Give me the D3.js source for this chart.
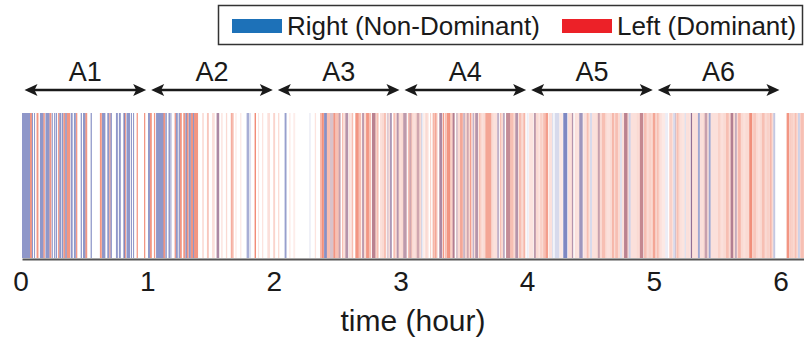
<!DOCTYPE html>
<html>
<head>
<meta charset="utf-8">
<script src="https://cdn.jsdelivr.net/npm/d3@7"></script>
<style>
  html, body { margin: 0; padding: 0; background: #fff; }
  text { font-family: "Liberation Sans", Arial, sans-serif; fill: #1a1a1a; }
</style>
</head>
<body>
<div id="chart"></div>
<script>
// recording timeline, hours
const hourTicks = [0, 1, 2, 3, 4, 5, 6];
const recordEndHour = 6.174;
const sessionLabels = ['A1', 'A2', 'A3', 'A4', 'A5', 'A6'];
const sessionStartHour = [0, 1, 2, 3, 4, 5];

const legendLabels = ['Right (Non-Dominant)', 'Left (Dominant)'];

// hand activity events: [start (min), duration (min), level]
const rightEvents = [
  [0.0, 3.8, 0.55], [4.7, 0.5, 0.55], [5.7, 0.3, 0.55], [8.5, 1.6, 0.55], [11.1, 1.9, 0.55],
  [14.1, 0.5, 0.55], [15.2, 0.6, 0.55], [16.1, 0.5, 0.55], [17.7, 0.9, 0.55], [18.9, 0.6, 0.55],
  [20.5, 0.7, 0.55], [23.1, 0.9, 0.55], [24.6, 0.9, 0.55], [27.8, 0.6, 0.55], [28.9, 1.1, 0.55],
  [32.5, 0.6, 0.55], [37.9, 1.6, 0.55], [40.4, 0.9, 0.55], [41.9, 0.7, 0.55], [44.5, 0.9, 0.55],
  [45.9, 0.9, 0.55], [48.0, 0.8, 0.55], [49.5, 1.7, 0.55], [51.6, 0.5, 0.55], [52.6, 0.5, 0.55],
  [59.7, 0.9, 0.55], [63.5, 3.5, 0.55], [67.9, 0.7, 0.55], [69.4, 0.7, 0.55], [70.3, 0.3, 0.55],
  [72.9, 0.9, 0.55], [74.2, 0.6, 0.55], [77.4, 0.7, 0.55], [79.0, 0.9, 0.55], [81.0, 0.5, 0.55],
  [92.2, 1.2, 0.35], [106.4, 1.3, 0.4], [108.0, 0.5, 0.1], [124.4, 0.9, 0.5], [136.1, 0.6, 0.08],
  [143.1, 1.3, 0.6], [145.9, 1.6, 0.12], [150.0, 0.9, 0.2], [153.2, 1.3, 0.3], [161.1, 0.9, 0.25],
  [165.8, 1.6, 0.25], [172.8, 0.9, 0.1], [174.3, 0.9, 0.35], [177.5, 0.9, 0.3], [180.6, 1.6, 0.25],
  [183.5, 0.9, 0.15], [187.0, 1.2, 0.15], [189.1, 0.6, 0.2], [197.7, 1.3, 0.35], [204.0, 0.9, 0.3],
  [205.6, 0.9, 0.12], [209.0, 0.9, 0.2], [210.7, 0.9, 0.15], [213.5, 0.6, 0.25], [214.7, 1.3, 0.3],
  [225.1, 0.9, 0.25], [228.0, 0.6, 0.4], [229.3, 1.9, 0.2], [233.7, 1.3, 0.3], [239.1, 0.9, 0.06],
  [242.5, 0.9, 0.25], [251.1, 0.6, 0.12], [252.3, 2.2, 0.15], [256.4, 1.9, 0.65], [260.5, 0.6, 0.3],
  [264.0, 1.6, 0.45], [269.1, 0.9, 0.15], [272.8, 0.9, 0.2], [283.3, 0.9, 0.12], [285.2, 1.6, 0.25],
  [287.4, 0.9, 0.2], [292.7, 1.6, 0.2], [304.7, 1.3, 0.06], [308.5, 1.3, 0.15], [313.9, 0.6, 0.12],
  [316.8, 0.6, 0.5], [320.2, 0.9, 0.45], [323.4, 1.2, 0.2], [325.3, 0.9, 0.45], [335.7, 1.2, 0.3],
  [337.9, 0.6, 0.35], [355.9, 0.9, 0.25], [367.6, 0.9, 0.2]
];

const leftEvents = [
  [3.8, 0.9, 0.55], [6.9, 0.9, 0.55], [10.1, 0.7, 0.55], [13.0, 0.9, 0.55], [17.1, 0.6, 0.55],
  [19.6, 0.9, 0.55], [21.2, 1.6, 0.55], [25.6, 0.6, 0.55], [30.0, 0.9, 0.55], [36.9, 0.9, 0.55],
  [41.4, 0.5, 0.55], [48.6, 0.6, 0.55], [54.3, 0.6, 0.55], [57.8, 0.6, 0.55], [60.6, 0.9, 0.55],
  [62.5, 0.6, 0.55], [66.9, 0.9, 0.55], [72.3, 0.6, 0.55], [74.8, 0.9, 0.55], [76.4, 0.9, 0.55],
  [78.0, 0.9, 0.55], [79.9, 1.1, 0.55], [81.5, 1.9, 0.55],
  [85.3, 0.9, 0.12], [87.6, 0.9, 0.25], [90.0, 1.3, 0.12], [92.2, 1.2, 0.35], [94.4, 0.6, 0.12],
  [96.6, 0.6, 0.15], [98.9, 0.9, 0.4], [99.8, 0.6, 0.2], [101.1, 0.5, 0.1], [103.4, 0.5, 0.1],
  [110.2, 0.6, 0.7], [111.8, 0.5, 0.1], [113.7, 0.6, 0.1], [116.2, 1.3, 0.12], [119.0, 0.9, 0.18],
  [121.3, 0.6, 0.15], [126.6, 0.6, 0.08], [128.5, 0.9, 0.06], [138.7, 0.6, 0.1],
  [141.2, 0.9, 0.35], [142.1, 0.9, 0.6], [144.3, 1.6, 0.3], [145.9, 1.6, 0.15], [147.5, 0.9, 0.55],
  [148.4, 1.6, 0.3], [150.0, 0.9, 0.3], [151.6, 0.6, 0.3], [152.3, 0.9, 0.12], [153.2, 1.3, 0.3],
  [154.8, 0.6, 0.12], [155.5, 0.8, 0.12], [156.3, 0.6, 0.3], [157.9, 1.6, 0.55], [159.5, 1.2, 0.3],
  [161.1, 0.9, 0.3], [162.0, 1.0, 0.15], [163.0, 1.3, 0.55], [164.2, 1.2, 0.3], [165.8, 1.6, 0.5],
  [167.4, 0.6, 0.15], [168.0, 0.9, 0.3], [169.6, 0.9, 0.12], [170.5, 1.0, 0.15], [171.5, 0.9, 0.3],
  [172.8, 1.5, 0.12], [174.3, 0.9, 0.2], [175.9, 0.9, 0.3], [176.8, 0.7, 0.12], [177.5, 0.9, 0.3],
  [178.4, 0.7, 0.15], [179.1, 0.6, 0.12], [179.7, 0.9, 0.15], [180.6, 1.6, 0.3], [182.8, 1.9, 0.3],
  [184.7, 0.7, 0.15], [185.4, 0.9, 0.12], [186.3, 0.7, 0.15], [187.0, 1.2, 0.3], [188.2, 0.9, 0.15],
  [190.1, 0.6, 0.1], [191.0, 1.0, 0.15], [192.0, 0.6, 0.12], [193.3, 0.5, 0.2], [194.5, 0.9, 0.35],
  [195.5, 0.9, 0.45], [196.4, 0.6, 0.12], [197.7, 1.3, 0.35], [199.3, 0.6, 0.55], [200.2, 0.9, 0.3],
  [201.2, 1.6, 0.55], [202.7, 1.3, 0.2], [204.0, 0.9, 0.5], [205.6, 1.9, 0.15], [207.5, 1.3, 0.45],
  [208.8, 1.9, 0.15], [210.7, 0.9, 0.3], [211.6, 0.6, 0.15], [212.2, 0.6, 0.5], [212.8, 1.9, 0.12],
  [214.7, 1.3, 0.3], [216.3, 0.9, 0.3], [217.2, 0.7, 0.15], [217.9, 0.6, 0.12], [218.5, 1.0, 0.15],
  [219.5, 2.8, 0.45], [222.3, 1.0, 0.15], [223.3, 0.6, 0.12], [223.9, 1.2, 0.12], [225.1, 0.9, 0.12],
  [226.4, 0.6, 0.3], [227.0, 1.0, 0.15], [228.0, 0.6, 0.2], [229.3, 1.9, 0.45], [231.2, 1.6, 0.3],
  [232.8, 0.9, 0.15], [233.7, 1.3, 0.3], [235.3, 1.2, 0.3], [236.5, 1.0, 0.15], [237.5, 0.9, 0.35],
  [240.2, 2.0, 0.1], [242.5, 0.9, 0.3], [243.4, 1.0, 0.15], [244.4, 0.9, 0.12], [245.4, 0.9, 0.2],
  [246.3, 0.6, 0.15], [246.9, 0.9, 0.3], [247.9, 1.3, 0.5], [249.5, 0.6, 0.12], [250.1, 1.0, 0.12],
  [254.6, 1.6, 0.08], [258.6, 0.9, 0.12], [259.5, 1.0, 0.12], [260.5, 0.6, 0.3], [261.8, 0.9, 0.12],
  [262.7, 1.3, 0.1], [264.0, 1.6, 0.12], [265.9, 0.9, 0.12], [266.8, 0.7, 0.12], [267.5, 0.9, 0.3],
  [268.4, 0.7, 0.12], [270.0, 1.3, 0.12], [271.3, 0.9, 0.12], [272.2, 0.6, 0.15], [272.8, 0.9, 0.3],
  [273.7, 1.0, 0.15], [274.7, 1.6, 0.3], [276.3, 0.7, 0.15], [277.0, 1.6, 0.12], [278.6, 0.9, 0.15],
  [279.5, 0.9, 0.35], [280.4, 0.6, 0.15], [281.0, 1.3, 0.3], [282.3, 1.0, 0.15], [284.2, 1.0, 0.12],
  [285.2, 1.6, 0.5], [286.8, 0.6, 0.15], [288.3, 1.0, 0.12], [289.3, 0.6, 0.12], [289.9, 1.3, 0.12],
  [291.2, 0.9, 0.15], [292.1, 0.6, 0.15], [292.7, 1.6, 0.5], [294.6, 1.3, 0.3], [295.9, 1.0, 0.15],
  [296.9, 1.2, 0.2], [298.1, 0.7, 0.15], [298.8, 1.2, 0.45], [300.0, 0.7, 0.15], [300.7, 0.9, 0.3],
  [301.6, 0.6, 0.15], [302.2, 0.9, 0.12], [303.1, 1.6, 0.08], [306.6, 1.3, 0.2], [307.9, 0.6, 0.12],
  [309.4, 0.7, 0.15], [310.1, 0.9, 0.3], [311.0, 0.7, 0.15], [311.7, 0.9, 0.12], [312.6, 1.3, 0.1],
  [314.5, 1.0, 0.12], [315.5, 0.9, 0.12], [316.8, 0.6, 0.5], [317.4, 0.6, 0.12], [318.0, 1.3, 0.12],
  [319.3, 0.9, 0.12], [321.1, 1.0, 0.12], [322.1, 0.6, 0.12], [322.7, 0.7, 0.15], [323.4, 1.2, 0.3],
  [324.6, 0.7, 0.12], [326.2, 0.7, 0.12], [326.9, 0.9, 0.12], [327.8, 1.9, 0.12], [329.7, 0.9, 0.2],
  [330.6, 0.7, 0.15], [331.3, 0.9, 0.12], [332.2, 1.3, 0.15], [333.5, 1.3, 0.3], [334.8, 0.9, 0.15],
  [335.7, 1.2, 0.5], [336.9, 1.0, 0.15], [337.9, 0.6, 0.2], [338.5, 0.7, 0.15], [339.2, 1.3, 0.35],
  [340.5, 1.2, 0.15], [341.7, 0.9, 0.12], [342.6, 1.9, 0.15], [344.5, 1.3, 0.6], [345.8, 0.6, 0.2],
  [346.4, 1.3, 0.25], [347.7, 0.9, 0.15], [348.6, 0.9, 0.12], [349.5, 1.0, 0.15], [350.5, 1.3, 0.3],
  [351.8, 1.0, 0.15], [352.8, 1.2, 0.2], [354.0, 0.3, 0.15], [354.3, 0.9, 0.3], [355.2, 0.7, 0.15],
  [362.2, 1.2, 0.55], [363.4, 0.4, 0.15], [363.8, 1.6, 0.2], [365.4, 0.6, 0.15], [366.0, 0.9, 0.3],
  [366.9, 0.7, 0.15], [368.5, 0.4, 0.15], [368.9, 1.5, 0.3]
];

const width = 804, height = 337;
const margin = { left: 22, right: 0 };
const barTop = 113, barBottom = 258, axisY = 259, arrowY = 90;

const barColor = { right: '#33429d', left: '#e8401e' };
const swatchColor = ['#1d71b8', '#ec2128'];

const svg = d3.select('#chart').append('svg')
  .attr('width', width)
  .attr('height', height);

const x = d3.scaleLinear()
  .domain([0, recordEndHour])
  .range([margin.left, width - margin.right]);

// level -> fill opacity (lifts the faint events a little)
const opacity = d3.scalePow().exponent(0.8).domain([0, 0.55]).range([0, 0.55]);

// Event bars
const drawEvents = (events, color, cls) => {
  svg.append('g')
    .attr('class', cls)
    .selectAll('rect')
    .data(events)
    .join('rect')
    .attr('x', d => x(d[0] / 60))
    .attr('y', barTop)
    .attr('width', d => Math.max(1, x((d[0] + d[1]) / 60) - x(d[0] / 60)))
    .attr('height', barBottom - barTop)
    .attr('fill', color)
    .attr('fill-opacity', d => Math.min(0.8, opacity(d[2])));
};
drawEvents(leftEvents, barColor.left, 'left-events');
drawEvents(rightEvents, barColor.right, 'right-events');

// Axis
const axis = svg.append('g')
  .attr('transform', `translate(0,${axisY})`)
  .call(d3.axisBottom(x).tickValues(hourTicks).tickFormat(d3.format('d')).tickSize(0).tickPadding(12));
axis.select('.domain').attr('stroke', '#555').attr('stroke-width', 2);
axis.selectAll('text')
  .attr('font-size', 28)
  .attr('font-family', '"Liberation Sans", Arial, sans-serif')
  .attr('fill', '#1a1a1a')
  .attr('dx', -1.5);

svg.append('text')
  .attr('x', x(3) + 11)
  .attr('y', 331)
  .attr('text-anchor', 'middle')
  .attr('font-size', 30)
  .text('time (hour)');

// Session arrows
const headLen = 13, headHalf = 6;
const sessions = svg.append('g').attr('class', 'sessions');
sessionStartHour.forEach((s, i) => {
  const x0 = x(s) + 2.5, x1 = x(s + 1) - 2.5;
  sessions.append('line')
    .attr('x1', x0 + 4).attr('x2', x1 - 4)
    .attr('y1', arrowY).attr('y2', arrowY)
    .attr('stroke', '#1a1a1a').attr('stroke-width', 2.5);
  sessions.append('path')
    .attr('d', `M${x0},${arrowY} L${x0 + headLen},${arrowY - headHalf} L${x0 + headLen - 3},${arrowY} L${x0 + headLen},${arrowY + headHalf} Z`)
    .attr('fill', '#1a1a1a');
  sessions.append('path')
    .attr('d', `M${x1},${arrowY} L${x1 - headLen},${arrowY - headHalf} L${x1 - headLen + 3},${arrowY} L${x1 - headLen},${arrowY + headHalf} Z`)
    .attr('fill', '#1a1a1a');
  sessions.append('text')
    .attr('x', (x0 + x1) / 2)
    .attr('y', 81)
    .attr('text-anchor', 'middle')
    .attr('font-size', 27)
    .text(sessionLabels[i]);
});

// Legend
const legend = svg.append('g').attr('class', 'legend');
legend.append('rect')
  .attr('x', 218.5).attr('y', 5.5)
  .attr('width', 584).attr('height', 39)
  .attr('fill', '#fff')
  .attr('stroke', '#333').attr('stroke-width', 1.5);
const legendX = [232, 562];
legendLabels.forEach((label, i) => {
  legend.append('rect')
    .attr('x', legendX[i]).attr('y', 19)
    .attr('width', 50).attr('height', 14)
    .attr('fill', swatchColor[i]);
  legend.append('text')
    .attr('x', legendX[i] + 55)
    .attr('y', 35)
    .attr('font-size', 26)
    .text(label);
});
</script>
</body>
</html>
